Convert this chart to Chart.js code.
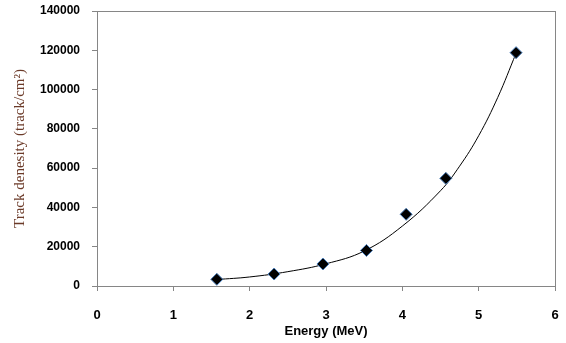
<html>
<head>
  <meta charset="UTF-8">
  <title>Track density vs Energy</title>
  <script src="https://cdn.jsdelivr.net/npm/chart.js"></script>
  <style>
    html, body { margin: 0; padding: 0; background: #fff; }
    #wrap { width: 566px; height: 343px; }
  </style>
</head>
<body>
  <div id="wrap"><canvas id="chart" width="566" height="343"></canvas></div>
  <script>
    // --- Data ---
    const energy  = [1.57, 2.32, 2.96, 3.53, 4.05, 4.57, 5.49];      // MeV
    const density = [3400, 6100, 11200, 18100, 36500, 54800, 118800]; // track/cm2

    // exponential trend line, read at a few x positions
    const trendX = [1.57, 2.0, 2.5, 3.0, 3.5, 4.0, 4.5, 4.75, 5.0, 5.25, 5.49];
    const trendY = [3300, 4600, 7300, 11300, 17800, 30500, 48500, 61000, 76500, 96000, 118500];

    const xTicks = [0, 1, 2, 3, 4, 5, 6];
    const yTicks = [0, 20000, 40000, 60000, 80000, 100000, 120000, 140000];

    const AXIS_GRAY = '#868686';

    // draws the grey frame around the plot area
    const frame = {
      id: 'frame',
      afterDraw(chart) {
        const { ctx, chartArea: a } = chart;
        ctx.save();
        ctx.strokeStyle = AXIS_GRAY;
        ctx.lineWidth = 1;
        ctx.strokeRect(Math.round(a.left) + 0.5, Math.round(a.top) + 0.5,
                       Math.round(a.right - a.left), Math.round(a.bottom - a.top));
        ctx.restore();
      }
    };

    new Chart(document.getElementById('chart'), {
      type: 'scatter',
      data: {
        datasets: [
          {
            label: 'fit',
            data: trendX.map((x, i) => ({ x, y: trendY[i] })),
            showLine: true,
            borderColor: '#000',
            borderWidth: 1,
            pointRadius: 0,
            tension: 0.4,
            order: 2
          },
          {
            label: 'Track density',
            data: energy.map((x, i) => ({ x, y: density[i] })),
            pointStyle: 'rectRot',
            pointRadius: 6,
            backgroundColor: '#000',
            borderColor: '#4a7ebb',
            borderWidth: 1,
            order: 1
          }
        ]
      },
      options: {
        responsive: false,
        animation: false,
        layout: { padding: { left: 0, right: 11, top: 11, bottom: 0 } },
        plugins: { legend: { display: false }, tooltip: { enabled: false } },
        scales: {
          x: {
            type: 'linear',
            min: 0, max: 6,
            afterBuildTicks: s => { s.ticks = xTicks.map(v => ({ value: v })); },
            afterFit: s => { s.height = 57; s.paddingLeft = 0; s.paddingRight = 0; },
            border: { display: true, color: AXIS_GRAY },
            grid: { drawOnChartArea: false, drawTicks: true, tickLength: 5, color: AXIS_GRAY },
            ticks: {
              padding: 17,
              color: '#000',
              font: { family: 'Liberation Sans', size: 13, weight: 'bold' },
              maxRotation: 0
            },
            title: {
              display: true,
              text: 'Energy (MeV)',
              color: '#000',
              font: { family: 'Liberation Sans', size: 13, weight: 'bold' },
              padding: { top: 0, bottom: 4 }
            }
          },
          y: {
            type: 'linear',
            min: 0, max: 140000,
            afterBuildTicks: s => { s.ticks = yTicks.map(v => ({ value: v })); },
            afterFit: s => { s.width = 97; s.paddingTop = 0; s.paddingBottom = 0; },
            border: { display: true, color: AXIS_GRAY },
            grid: { drawOnChartArea: false, drawTicks: true, tickLength: 5, color: AXIS_GRAY },
            ticks: {
              padding: 12,
              color: '#000',
              font: { family: 'Liberation Sans', size: 12, weight: 'bold' },
              callback: v => String(v)
            },
            title: {
              display: true,
              text: 'Track denesity (track/cm²)',
              color: '#6b3a28',
              font: { family: 'Liberation Serif', size: 15 },
              padding: { top: 11, bottom: 0 }
            }
          }
        }
      },
      plugins: [frame]
    });
  </script>
</body>
</html>
